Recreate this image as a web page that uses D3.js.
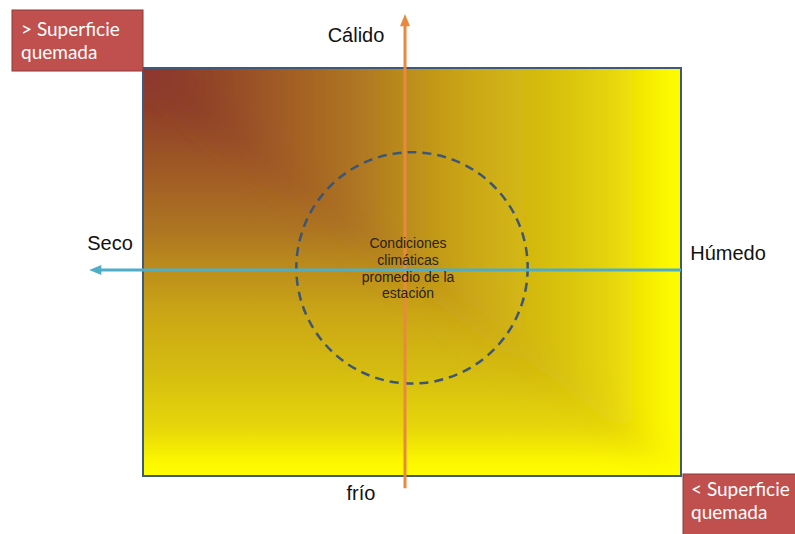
<!DOCTYPE html>
<html>
<head>
<meta charset="utf-8">
<script src="https://cdn.jsdelivr.net/npm/d3@7"></script>
<style>
  body { margin: 0; background: #fff; }
  svg { display: block; }
</style>
</head>
<body>
<svg width="795" height="534"></svg>
<script>
// gradient stops read along the top and left edges of the panel
const stopOffsets = [0, 0.1, 0.25, 0.4, 0.5, 0.6, 0.75, 0.88, 0.96, 1];
const stopColors = ["#8c3630", "#8f4028", "#a05a25", "#ae7622", "#bd8f1b", "#caa615", "#d6bd10", "#e6d60a", "#fbf500", "#ffff00"];

// axis labels
const axisLabels = { top: "Cálido", bottom: "frío", left: "Seco", right: "Húmedo" };

// text inside the circle
const centerLines = ["Condiciones", "climáticas", "promedio de la", "estación"];

// red label boxes
const boxLines = [["> Superficie", "quemada"], ["< Superficie", "quemada"]];

// average conditions: centre and radius in axis units
const avgPoint = { x: 0, y: 0.02, r: 0.43 };

// axis positions in axis units
const warmAxisX = -0.026;
const dryAxisY = 0.01;

var svg = d3.select("svg");

var x = d3.scaleLinear().domain([-1, 1]).range([143, 681]);
var y = d3.scaleLinear().domain([-1, 1]).range([476, 68]);

var x0 = x(-1), x1 = x(1), y0 = y(1), y1 = y(-1);
var W = x1 - x0, H = y1 - y0;

var defs = svg.append("defs");

function addGrad(id, horizontal) {
  var g = defs.append("linearGradient")
    .attr("id", id)
    .attr("gradientUnits", "userSpaceOnUse")
    .attr("x1", x0).attr("y1", y0)
    .attr("x2", horizontal ? x1 : x0)
    .attr("y2", horizontal ? y0 : y1);
  g.selectAll("stop")
    .data(stopOffsets)
    .enter()
    .append("stop")
    .attr("offset", d => d)
    .attr("stop-color", (d, i) => stopColors[i]);
}
addGrad("gradH", true);
addGrad("gradV", false);

//upper right triangle takes the horizontal gradient, stretched past the panel so the blur only softens the crease
var k = 0.15;
defs.append("clipPath")
  .attr("id", "upperRight")
  .append("polygon")
  .attr("points", [[x0 - k * W, y0 - k * H], [x1 + k * W, y0 - k * H], [x1 + k * W, y1 + k * H]]
    .map(p => p.join(",")).join(" "));

defs.append("clipPath")
  .attr("id", "panelClip")
  .append("rect")
  .attr("x", x0).attr("y", y0).attr("width", W).attr("height", H);

defs.append("filter")
  .attr("id", "soft")
  .attr("x", "-20%").attr("y", "-20%").attr("width", "140%").attr("height", "140%")
  .append("feGaussianBlur")
  .attr("stdDeviation", 16);

var panel = svg.append("g").attr("class", "panel").attr("clip-path", "url(#panelClip)");

panel.append("rect")
  .attr("x", x0).attr("y", y0)
  .attr("width", W).attr("height", H)
  .attr("fill", "url(#gradV)");

panel.append("g")
  .attr("filter", "url(#soft)")
  .append("rect")
  .attr("x", x0 - k * W).attr("y", y0 - k * H)
  .attr("width", W * (1 + 2 * k)).attr("height", H * (1 + 2 * k))
  .attr("fill", "url(#gradH)")
  .attr("clip-path", "url(#upperRight)");

svg.append("rect")
  .attr("x", x0).attr("y", y0)
  .attr("width", W).attr("height", H)
  .attr("fill", "none")
  .attr("stroke", "#3d5a7c")
  .attr("stroke-width", 2);

// dashed circle
svg.append("circle")
  .attr("cx", x(avgPoint.x))
  .attr("cy", y(avgPoint.y))
  .attr("r", x(avgPoint.r) - x(0))
  .attr("fill", "none")
  .attr("stroke", "#3e5675")
  .attr("stroke-width", 2.5)
  .attr("stroke-dasharray", "9,6");

// warm / cold axis
var ax = x(warmAxisX);
svg.append("line")
  .attr("x1", ax).attr("x2", ax)
  .attr("y1", y(-1.06)).attr("y2", y(1.22))
  .attr("stroke", "#e8893f")
  .attr("stroke-width", 3);
svg.append("path")
  .attr("d", `M${ax},${y(1.265)} L${ax - 5},${y(1.205)} L${ax + 5},${y(1.205)} Z`)
  .attr("fill", "#e8893f");

// dry / wet axis
var ay = y(dryAxisY);
svg.append("line")
  .attr("x1", x(1)).attr("x2", x(-1.16))
  .attr("y1", ay).attr("y2", ay)
  .attr("stroke", "#4fadc8")
  .attr("stroke-width", 3);
svg.append("path")
  .attr("d", `M${x(-1.2)},${ay} L${x(-1.155)},${ay - 5} L${x(-1.155)},${ay + 5} Z`)
  .attr("fill", "#4fadc8");

// axis labels
var lab = svg.append("g")
  .attr("font-family", "Liberation Sans, Arial, sans-serif")
  .attr("font-size", "20px")
  .attr("fill", "#111");

lab.append("text").attr("x", 356).attr("y", 42).attr("text-anchor", "middle").text(axisLabels.top);
lab.append("text").attr("x", 361).attr("y", 500).attr("text-anchor", "middle").text(axisLabels.bottom);
lab.append("text").attr("x", 110).attr("y", 250).attr("text-anchor", "middle").text(axisLabels.left);
lab.append("text").attr("x", 728).attr("y", 260).attr("text-anchor", "middle").text(axisLabels.right);

// centre text
svg.append("g")
  .attr("font-family", "Liberation Sans, Arial, sans-serif")
  .attr("font-size", "14px")
  .attr("fill", "#2a2218")
  .attr("text-anchor", "middle")
  .selectAll("text")
  .data(centerLines)
  .enter()
  .append("text")
  .attr("x", 408)
  .attr("y", (d, i) => 248 + i * 16.8)
  .text(d => d);

// red boxes
var boxes = [
  { x: 12, y: 10, w: 131, h: 61, tx: 21, ty: 36 },
  { x: 683, y: 474, w: 125, h: 64, tx: 691, ty: 496 }
];
var bx = svg.selectAll("g.box")
  .data(boxes)
  .enter()
  .append("g")
  .attr("class", "box");

bx.append("rect")
  .attr("x", d => d.x).attr("y", d => d.y)
  .attr("width", d => d.w).attr("height", d => d.h)
  .attr("fill", "#c0504d")
  .attr("stroke", "#8c3836")
  .attr("stroke-width", 1);

bx.each(function (d, i) {
  d3.select(this).selectAll("text")
    .data(boxLines[i])
    .enter()
    .append("text")
    .attr("x", d.tx)
    .attr("y", (t, j) => d.ty + j * 22.5)
    .attr("font-family", "Lato, sans-serif")
    .attr("font-size", "19px")
    .attr("fill", "#fff")
    .text(t => t);
});
</script>
</body>
</html>
